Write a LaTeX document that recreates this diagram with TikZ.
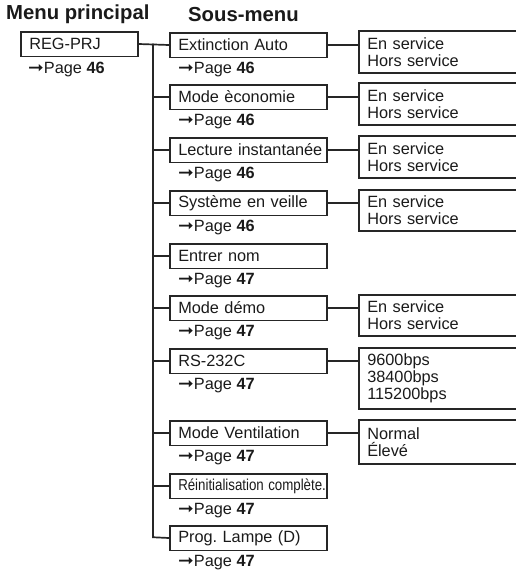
\documentclass[tikz,border=0pt]{standalone}
\usepackage{fontspec}
\setmainfont{Liberation Sans}
\newfontfamily\arrowfont{DejaVu Sans}
\definecolor{ink}{HTML}{1A1A1A}
\definecolor{line}{HTML}{262626}
\newcommand\pg[1]{{\arrowfont\bfseries\scalebox{1.15}[1.05]{➞}}Page \textbf{#1}}
\begin{document}
\frenchspacing
\begin{tikzpicture}[x=1pt,y=-1pt,
  txt/.style={font=\fontsize{16.3}{17}\selectfont\frenchspacing, text=ink},
  menubox/.style={draw=line, line width=1.5pt, anchor=north west, inner xsep=8.5pt, inner ysep=0pt, minimum height=24.5pt, align=left, txt},
  subbox/.style={menubox, text width=140pt},
  optbox/.style={menubox, text width=150pt, minimum height=#1},
  pagelbl/.style={anchor=west, inner sep=0pt, txt},
  conn/.style={draw=line, line width=1.7pt},
  head/.style={anchor=west, inner sep=0pt, font=\fontsize{20.3}{22}\selectfont\bfseries, text=ink}]
\useasboundingbox (0,0) rectangle (515,573);

\node[head] (h1) at (6,14.5) {Menu principal};
\node[head] (h2) at (188,14.5) {Sous-menu};

\node[menubox, text width=100pt] (reg) at (20,31) {REG-PRJ};
\node[pagelbl] (regp) at (28,69) {\pg{46}};

\node[subbox] (s1) at (169,32) {\mbox{Extinction Auto}};
\node[subbox] (s2) at (169,84) {\mbox{Mode èconomie}};
\node[subbox] (s3) at (169,137) {\mbox{Lecture instantanée}};
\node[subbox] (s4) at (169,190) {\mbox{Système en veille}};
\node[subbox] (s5) at (169,243) {\mbox{Entrer nom}};
\node[subbox] (s6) at (169,295) {\mbox{Mode démo}};
\node[subbox] (s7) at (169,348) {\mbox{RS-232C}};
\node[subbox] (s8) at (169,420) {\mbox{Mode Ventilation}};
\node[subbox] (s9) at (169,473) {\scalebox{0.815}[0.97]{Réinitialisation complète.}};
\node[subbox] (s10) at (169,525) {\mbox{Prog. Lampe (D)}};

\node[pagelbl] (p1) at (178,69.5) {\pg{46}};
\node[pagelbl] (p2) at (178,121.5) {\pg{46}};
\node[pagelbl] (p3) at (178,174.5) {\pg{46}};
\node[pagelbl] (p4) at (178,227.5) {\pg{46}};
\node[pagelbl] (p5) at (178,280.5) {\pg{47}};
\node[pagelbl] (p6) at (178,332.5) {\pg{47}};
\node[pagelbl] (p7) at (178,385.5) {\pg{47}};
\node[pagelbl] (p8) at (178,457.5) {\pg{47}};
\node[pagelbl] (p9) at (178,510.5) {\pg{47}};
\node[pagelbl] (p10) at (178,562.5) {\pg{47}};

\node[optbox=42pt] (o1) at (358,30) {En service\\Hors service};
\node[optbox=42pt] (o2) at (358,82) {En service\\Hors service};
\node[optbox=42pt] (o3) at (358,135) {En service\\Hors service};
\node[optbox=41pt] (o4) at (358,189) {En service\\Hors service};
\node[optbox=41pt] (o6) at (358,294) {En service\\Hors service};
\node[optbox=61pt] (o7) at (358,347) {9600bps\\38400bps\\115200bps};
\node[optbox=44pt] (o8) at (358,419) {Normal\\Élevé};

\coordinate (tt) at (153,43.5);
\coordinate (tb) at (153,537.25);
\draw[conn] (reg.east) -- (s1.west);
\draw[conn] (tt) -- (tb) -- (s10.west);
\foreach \s in {s2,s3,s4,s5,s6,s7,s8,s9}
  \draw[conn] (\s.west -| tt) -- (\s.west);
\draw[conn] (s1.east) -- (s1.east -| o1.west);
\draw[conn] (s2.east) -- (s2.east -| o2.west);
\draw[conn] (s3.east) -- (s3.east -| o3.west);
\draw[conn] (s4.east) -- (s4.east -| o4.west);
\draw[conn] (s6.east) -- (s6.east -| o6.west);
\draw[conn] (s7.east) -- (s7.east -| o7.west);
\draw[conn] (s8.east) -- (s8.east -| o8.west);
\end{tikzpicture}
\end{document}
